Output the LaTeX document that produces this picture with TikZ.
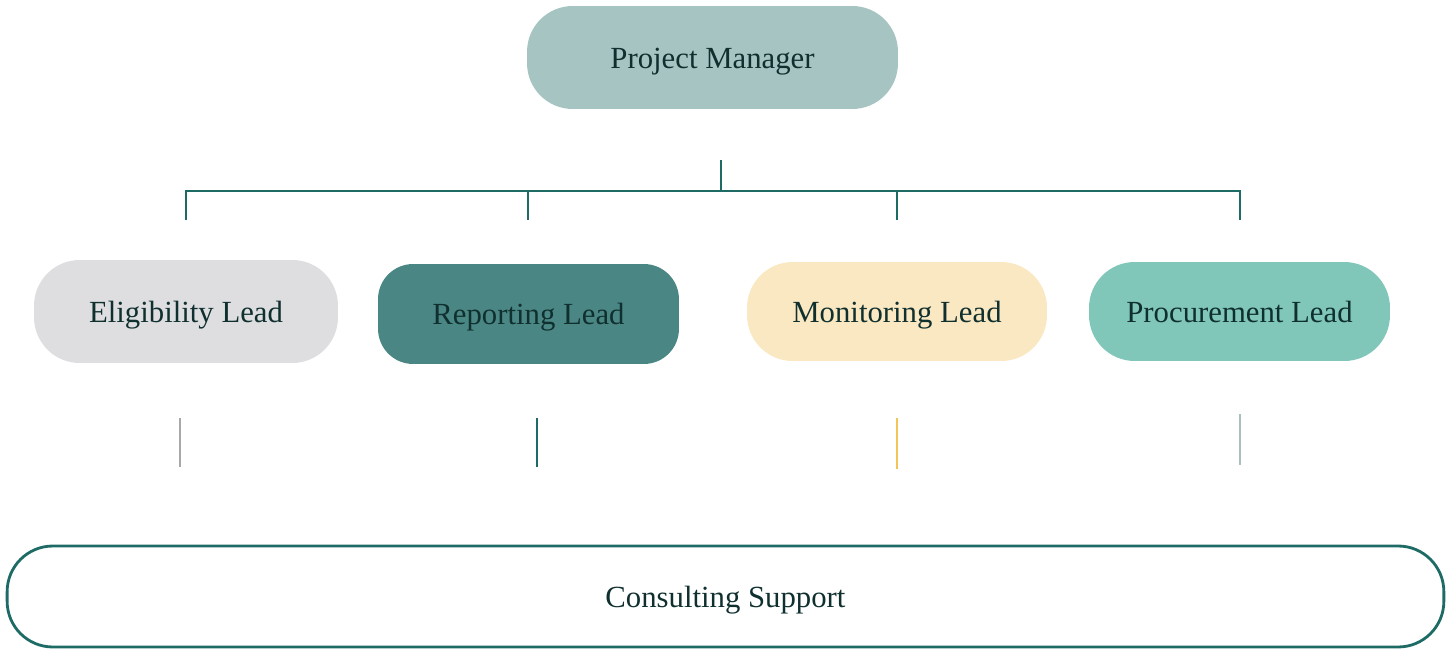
\documentclass[tikz,border=0pt]{standalone}
\usepackage{fontspec}
\setmainfont{Liberation Serif}
\usepackage{tikz}
\usetikzlibrary{positioning}

\definecolor{pmfill}{HTML}{A6C4C2}
\definecolor{elfill}{HTML}{DEDEE0}
\definecolor{rpfill}{HTML}{4A8784}
\definecolor{mofill}{HTML}{FAE8C2}
\definecolor{prfill}{HTML}{80C7BA}
\definecolor{teal}{HTML}{1E6B66}
\definecolor{txt}{HTML}{10302F}
\definecolor{mogold}{HTML}{F2C45A}
\definecolor{prgray}{HTML}{A9BFC0}
\definecolor{elgray}{HTML}{A8A8A8}

\begin{document}
\begin{tikzpicture}[x=0.02cm,y=-0.02cm]
\tikzstyle{every node}+=[inner sep=0pt, text=txt, font=\fontsize{17.5}{20}\selectfont, text height=15pt, text depth=2.5pt]
\tikzstyle{role}=[rounded corners=26pt, minimum height=2.04cm]
\tikzstyle{tree}=[teal, line width=1.2pt]
\useasboundingbox (0,0) rectangle (1455,649);
% boxes
\node [role, fill=pmfill, minimum width=7.42cm, minimum height=2.06cm] (pm) at (712.5,57.5) {Project Manager};
\node [role, fill=elfill, minimum width=6.08cm, minimum height=2.06cm] (elig) at (186,311.5) {Eligibility Lead};
\node [role, fill=rpfill, minimum width=6.02cm, minimum height=2cm, rounded corners=20pt] (rep) at (528.5,314) {Reporting Lead};
\node [role, fill=mofill, minimum width=6cm, minimum height=1.98cm] (mon) at (897,311.5) {Monitoring Lead};
\node [role, fill=prfill, minimum width=6.02cm, minimum height=1.98cm] (proc) at (1239.5,311.5) {Procurement Lead};
\node [draw=teal, line width=1.6pt, rounded corners=26pt, minimum width=28.74cm, minimum height=2.02cm] (cons) at (725.5,596.5) {Consulting Support};
% tree
\coordinate (top) at (721,160);
\coordinate (bus) at (721,191);
\coordinate (e1) at (186,220);
\coordinate (r1) at (528,220);
\coordinate (m1) at (897,220);
\coordinate (p1) at (1240,220);
\draw [tree] (top) -- (bus);
\draw [tree] (e1) -- (e1 |- bus) -- (p1 |- bus) -- (p1);
\draw [tree] (r1) -- (r1 |- bus);
\draw [tree] (m1) -- (m1 |- bus);
% lower ticks
\coordinate (e2) at (180,418);
\coordinate (e3) at (180,467);
\coordinate (r2) at (537,418);
\coordinate (r3) at (537,467);
\coordinate (m2) at (897,418);
\coordinate (m3) at (897,469);
\coordinate (p2) at (1240,414);
\coordinate (p3) at (1240,465);
\draw [elgray, line width=1pt] (e2) -- (e3);
\draw [teal, line width=1.2pt] (r2) -- (r3);
\draw [mogold, line width=1pt] (m2) -- (m3);
\draw [prgray, line width=1pt] (p2) -- (p3);
\end{tikzpicture}
\end{document}
